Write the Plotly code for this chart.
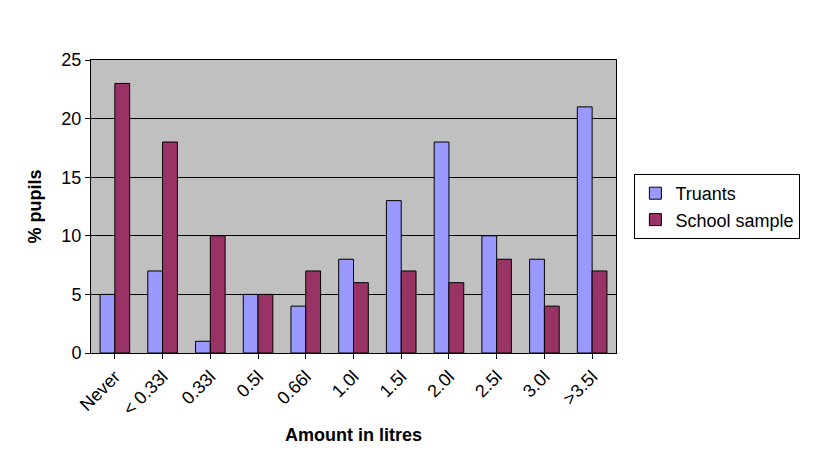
import plotly.graph_objects as go

categories = ["Never", "< 0.33l", "0.33l", "0.5l", "0.66l", "1.0l", "1.5l", "2.0l", "2.5l", "3.0l", ">3.5l"]
truants = [5, 7, 1, 5, 4, 8, 13, 18, 10, 8, 21]
school = [23, 18, 10, 5, 7, 6, 7, 6, 8, 4, 7]

fig = go.Figure()
fig.add_trace(go.Bar(x=categories, y=truants, name="Truants",
                     marker=dict(color="#9999FF", line=dict(color="black", width=1))))
fig.add_trace(go.Bar(x=categories, y=school, name="School sample",
                     marker=dict(color="#993366", line=dict(color="black", width=1))))

fig.update_layout(
    width=820, height=459,
    paper_bgcolor="white", plot_bgcolor="#C0C0C0",
    font=dict(family="Liberation Sans, Arial", size=18, color="black"),
    barmode="group", bargap=0.38, bargroupgap=0,
    margin=dict(l=83, r=212, t=52, b=114, autoexpand=False),
    legend=dict(x=1.035, y=0.5, yanchor="middle", bordercolor="black", borderwidth=1,
                font=dict(size=18), bgcolor="white"),
    xaxis=dict(title=dict(text="<b>Amount in litres</b>", font=dict(size=18), standoff=10),
               tickangle=-45, showline=True, linecolor="black", ticks="outside",
               tickcolor="black", mirror=True, automargin=False),
    yaxis=dict(title=dict(text="<b>% pupils</b>", font=dict(size=18)),
               range=[0, 25], dtick=5, gridcolor="black", gridwidth=1,
               showline=True, linecolor="black", ticks="outside", tickcolor="black",
               mirror=True, zeroline=False, automargin=False),
)
fig.write_html("out.html")
